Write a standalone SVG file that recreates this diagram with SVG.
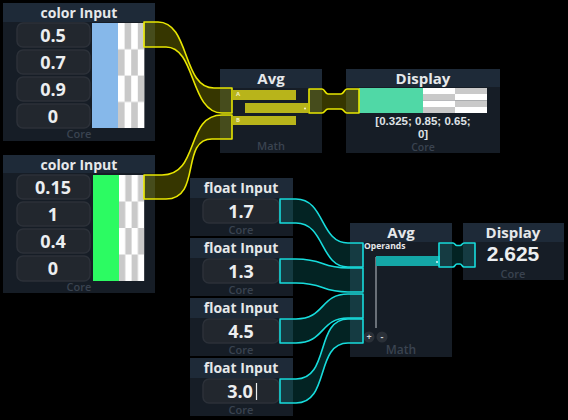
<svg xmlns="http://www.w3.org/2000/svg" width="568" height="420" viewBox="0 0 568 420">
<defs>
<style>
text{font-family:"Open Sans","Noto Sans","Liberation Sans",sans-serif;font-weight:700;text-anchor:middle}
.lib{font-family:"Liberation Sans",Arial,sans-serif}
.body{fill:#161d26}
.head{fill:#1e2a38}
.field{fill:#22272e;stroke:#2c3139;stroke-width:1.5}
.title{fill:#e6e8ea;font-size:14px}
.val{fill:#eceef0;font-size:18px}
.core{fill:#3a4350;font-size:11px;font-weight:600}
.w{fill:#ffffff}
.g{fill:#c9c9c9}
.ybar{fill:#b8b41a}
.ylink{fill:rgba(225,225,0,0.24);stroke:#e8e600;stroke-width:1.6;stroke-linejoin:round}
.clink{fill:rgba(20,215,215,0.16);stroke:#17dcdc;stroke-width:1.6;stroke-linejoin:round}
</style>
<pattern id="chk" x="118" y="23" width="13.2" height="52.6" patternUnits="userSpaceOnUse">
<rect width="13.2" height="52.6" fill="#fff"/>
<rect x="6.6" y="0" width="6.6" height="26.3" fill="#c9c9c9"/>
<rect x="0" y="26.3" width="6.6" height="26.3" fill="#c9c9c9"/>
</pattern>
<pattern id="chk2" x="119" y="175" width="12.6" height="53" patternUnits="userSpaceOnUse">
<rect width="12.6" height="53" fill="#fff"/>
<rect x="6.3" y="0" width="6.3" height="26.5" fill="#c9c9c9"/>
<rect x="0" y="26.5" width="6.3" height="26.5" fill="#c9c9c9"/>
</pattern>
</defs>
<rect width="568" height="420" fill="#000"/>

<g id="color-input-1">
<rect class="body" x="3" y="3" width="152" height="138"/>
<rect class="head" x="3" y="3" width="152" height="19"/>
<text class="title" x="79" y="18">color Input</text>
<rect class="field" x="17" y="23" width="73" height="24" rx="6"/>
<rect class="field" x="17" y="50" width="73" height="24" rx="6"/>
<rect class="field" x="17" y="77" width="73" height="24" rx="6"/>
<rect class="field" x="17" y="104" width="73" height="24" rx="6"/>
<text class="val" x="53" y="42">0.5</text>
<text class="val" x="53" y="69">0.7</text>
<text class="val" x="53" y="96">0.9</text>
<text class="val" x="53" y="123">0</text>
<rect x="92" y="23" width="26" height="105" fill="#86b8ea"/>
<rect x="118" y="23" width="26.4" height="105" fill="url(#chk)"/>
<text class="core" x="79" y="138">Core</text>
</g>

<g id="color-input-2">
<rect class="body" x="3" y="155" width="152" height="138"/>
<rect class="head" x="3" y="155" width="152" height="18"/>
<text class="title" x="79" y="170">color Input</text>
<rect class="field" x="17" y="175" width="73" height="24" rx="6"/>
<rect class="field" x="17" y="202" width="73" height="24" rx="6"/>
<rect class="field" x="17" y="229" width="73" height="24" rx="6"/>
<rect class="field" x="17" y="256" width="73" height="25" rx="6"/>
<text class="val" x="53" y="194">0.15</text>
<text class="val" x="53" y="221">1</text>
<text class="val" x="53" y="248">0.4</text>
<text class="val" x="53" y="275">0</text>
<rect x="93" y="175" width="26" height="106" fill="#2cfb62"/>
<rect x="119" y="175" width="25.2" height="106" fill="url(#chk2)"/>
<text class="core" x="79" y="291">Core</text>
</g>

<g id="avg-color">
<rect class="body" x="220" y="69" width="102" height="84"/>
<rect class="head" x="220" y="69" width="102" height="19"/>
<text class="title" x="271" y="84" style="font-size:15px">Avg</text>
<rect class="ybar" x="233" y="90" width="63" height="10"/>
<rect class="ybar" x="245" y="103" width="63" height="10"/>
<rect class="ybar" x="233" y="116" width="63" height="9"/>
<text x="236" y="96" style="font-size:6px;fill:#f0f0c0;text-anchor:start">A</text>
<text x="236" y="122" style="font-size:6px;fill:#f0f0c0;text-anchor:start">B</text>
<circle cx="305" cy="108.5" r="1.1" fill="#f0f0c0"/>
<text class="core" x="271" y="150">Math</text>
</g>

<g id="display-color">
<rect class="body" x="346" y="69" width="154" height="84"/>
<rect class="head" x="346" y="69" width="154" height="18"/>
<text class="title" x="423" y="84" style="font-size:15px">Display</text>
<rect x="359" y="88" width="64" height="25" fill="#50d8a6"/>
<rect x="423" y="88" width="32" height="6" class="w"/>
<rect x="455" y="88" width="32" height="6" class="g"/>
<rect x="423" y="94" width="32" height="6.5" class="g"/>
<rect x="455" y="94" width="32" height="6.5" class="w"/>
<rect x="423" y="100.5" width="32" height="6.5" class="w"/>
<rect x="455" y="100.5" width="32" height="6.5" class="g"/>
<rect x="423" y="107" width="32" height="6" class="g"/>
<rect x="455" y="107" width="32" height="6" class="w"/>
<text class="lib" x="423" y="125" style="font-size:11.5px;fill:#dfe2e5">[0.325; 0.85; 0.65;</text>
<text class="lib" x="423" y="137.5" style="font-size:11.5px;fill:#dfe2e5">0]</text>
<text class="core" x="423" y="151" style="font-size:10.5px">Core</text>
</g>

<g id="float-input-1">
<rect class="body" x="190" y="178" width="103" height="58"/>
<rect class="head" x="190" y="178" width="103" height="20"/>
<text class="title" x="241" y="193">float Input</text>
<rect class="field" x="203" y="199" width="76" height="24" rx="6"/>
<text class="val" x="241" y="218">1.7</text>
<text class="core" x="241" y="234">Core</text>
</g>
<g id="float-input-2">
<rect class="body" x="190" y="238" width="103" height="58"/>
<rect class="head" x="190" y="238" width="103" height="20"/>
<text class="title" x="241" y="253">float Input</text>
<rect class="field" x="203" y="259" width="76" height="24" rx="6"/>
<text class="val" x="241" y="278">1.3</text>
<text class="core" x="241" y="294">Core</text>
</g>
<g id="float-input-3">
<rect class="body" x="190" y="298" width="103" height="58"/>
<rect class="head" x="190" y="298" width="103" height="20"/>
<text class="title" x="241" y="313">float Input</text>
<rect class="field" x="203" y="319" width="76" height="24" rx="6"/>
<text class="val" x="241" y="338">4.5</text>
<text class="core" x="241" y="354">Core</text>
</g>
<g id="float-input-4">
<rect class="body" x="190" y="358" width="103" height="58"/>
<rect class="head" x="190" y="358" width="103" height="20"/>
<text class="title" x="241" y="373">float Input</text>
<rect class="field" x="203" y="379" width="76" height="24" rx="6"/>
<text class="val" x="240" y="398">3.0</text>
<line x1="256.5" y1="383" x2="256.5" y2="400" stroke="#eceef0" stroke-width="1.2"/>
<text class="core" x="241" y="414">Core</text>
</g>

<g id="avg-float">
<rect class="body" x="350" y="223" width="102" height="134"/>
<rect class="head" x="350" y="223" width="102" height="19"/>
<text class="title" x="401" y="238" style="font-size:15px">Avg</text>
<text x="364" y="249" style="font-size:8.5px;fill:#e6e8ea;text-anchor:start">Operands</text>
<rect x="375" y="257" width="2" height="71" fill="#6a7078"/>
<rect x="376" y="256" width="64" height="10" fill="#14a6a6"/>
<circle cx="437" cy="262" r="1.1" fill="#c8f0f0"/>
<circle cx="369" cy="337" r="5.5" fill="#2a3038"/>
<circle cx="382" cy="337" r="5.5" fill="#2a3038"/>
<text x="369" y="340" style="font-size:9px;fill:#d0d4d8">+</text>
<text x="382" y="340" style="font-size:9px;fill:#d0d4d8">-</text>
<text class="core" x="401" y="354" style="font-size:12px">Math</text>
</g>

<g id="display-float">
<rect class="body" x="463" y="223" width="101" height="57"/>
<rect class="head" x="463" y="223" width="101" height="19"/>
<text class="title" x="513" y="238" style="font-size:15px">Display</text>
<text class="lib" x="513" y="261" style="font-size:21px;fill:#eceef0">2.625</text>
<text class="core" x="513" y="278" style="font-size:11px">Core</text>
</g>

<g id="connectors">
<path class="ylink" d="M144,22 H158 C190,22 182,88 214,88 H232 V113 H222 C190,113 196,47 166,47 H144 Z"/>
<path class="ylink" d="M144,175 H162 C200,175 185,115 222,115 H232 V139 H212 C180,139 202,199 166,199 H144 Z"/>
<path class="ylink" d="M309,89 H322 C325,89 325,94 328,94 H341 C344,94 344,89 347,89 H359 V113 H347 C344,113 344,109 341,109 H328 C325,109 325,113 322,113 H309 Z"/>
<path class="clink" d="M280,199 H296 C325,199 320,243 348,243 H363 V267 H348 C320,267 325,223 296,223 H280 Z"/>
<path class="clink" d="M280,259 H296 C325,259 320,268 348,268 H363 V292 H348 C320,292 325,283 296,283 H280 Z"/>
<path class="clink" d="M280,319 H296 C325,319 320,294 348,294 H363 V318 H348 C320,318 325,343 296,343 H280 Z"/>
<path class="clink" d="M280,379 H296 C330,379 315,319 348,319 H363 V343 H348 C315,343 330,403 296,403 H280 Z"/>
<path class="clink" d="M439,243 H453 C455,243 455,245.5 457,245.5 H460 C462,245.5 462,243 464,243 H475 V267 H464 C462,267 462,264 460,264 H457 C455,264 455,267 453,267 H439 Z"/>
</g>
</svg>
